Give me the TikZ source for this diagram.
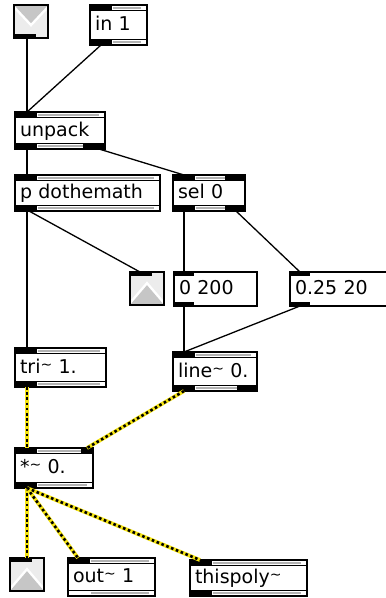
\documentclass[tikz,border=0pt]{standalone}
\usepackage{fontspec}
\usetikzlibrary{calc}
\newfontfamily\patchfont{DejaVu Sans}
\newcommand{\sigt}{\raisebox{0.35ex}{\fontsize{14}{14}\selectfont\textasciitilde}}
\definecolor{sigyellow}{RGB}{245,228,20}

\tikzset{
  cord/.style={line width=1.3pt},
  sigcord/.style={line width=3.8pt, sigyellow,
    postaction={draw=black, line width=2.6pt, dash pattern=on 2.6pt off 2.6pt}},
  box/.style={draw, line width=1.4pt, fill=white, anchor=north west,
    inner xsep=5pt, inner ysep=0pt, outer sep=0pt, align=left,
    text height=14pt, text depth=3pt,
    font=\patchfont\fontsize{19}{21}\selectfont},
  objbox/.style={box, path picture={
    % inner rules of the top and bottom strips
    \draw[line width=1.2pt] ([yshift=-5.5pt]path picture bounding box.north west) -- ([yshift=-5.5pt]path picture bounding box.north east);
    \draw[line width=1.2pt] ([yshift=5.5pt]path picture bounding box.south west) -- ([yshift=5.5pt]path picture bounding box.south east);
    \fill[gray!60] ([xshift=23pt,yshift=-2pt]path picture bounding box.north west) rectangle ([xshift=-6pt,yshift=-4pt]path picture bounding box.north east);
    \fill[gray!60] ([xshift=23pt,yshift=2pt]path picture bounding box.south west) rectangle ([xshift=-6pt,yshift=4pt]path picture bounding box.south east);
    % grow handle
    \fill ([xshift=-3pt,yshift=-2pt]path picture bounding box.east) rectangle ([yshift=-8pt]path picture bounding box.east);
  }},
  msgbox/.style={box, line width=1.2pt},
  icon/.style={draw, line width=1.4pt, fill=gray!15, anchor=north west,
    minimum width=34pt, minimum height=33pt, inner sep=0pt, outer sep=0pt},
  inicon/.style={icon, path picture={
    \draw[white, line width=5pt] (path picture bounding box.north west) -- ($(path picture bounding box.north)!0.55!(path picture bounding box.south)$) -- (path picture bounding box.north east);
    \fill[gray!45] (path picture bounding box.north west) -- ($(path picture bounding box.north)!0.55!(path picture bounding box.south)$) -- (path picture bounding box.north east) -- cycle;
    \fill ([xshift=-3pt,yshift=-2pt]path picture bounding box.east) rectangle ([yshift=-8pt]path picture bounding box.east);
  }},
  outicon/.style={icon, path picture={
    \draw[white, line width=5pt] (path picture bounding box.south west) -- ($(path picture bounding box.north)!0.4!(path picture bounding box.south)$) -- (path picture bounding box.south east);
    \fill[gray!45] (path picture bounding box.south west) -- ($(path picture bounding box.north)!0.4!(path picture bounding box.south)$) -- (path picture bounding box.south east) -- cycle;
    \fill ([xshift=-3pt,yshift=-2pt]path picture bounding box.east) rectangle ([yshift=-8pt]path picture bounding box.east);
  }},
}

\begin{document}
\begin{tikzpicture}[x=1pt, y=-1pt]
  \useasboundingbox (0,0) rectangle (386,598);

  % --- Inputs ---
  \node[inicon] (inl) at (14,5) {};
  \fill (inl.south west) rectangle +(22,-4);
  \node[objbox, text width=47pt, minimum height=40pt] (in1) at (90,5) {in 1};
  \fill (in1.north west) rectangle +(22,5);
  \fill (in1.south west) rectangle +(22,-6);

  % --- Control part ---
  \node[objbox, text width=80pt, minimum height=37pt] (unpack) at (15,112) {unpack};
  \fill (unpack.north west) rectangle +(22,6);
  \fill (unpack.south west) rectangle +(22,-6);
  \fill (unpack.south east) rectangle +(-22,-6);

  \node[objbox, text width=135pt, minimum height=36pt] (dothemath) at (15,175) {p dothemath};
  \fill (dothemath.north west) rectangle +(22,6);
  \fill (dothemath.south west) rectangle +(22,-6);

  \node[objbox, text width=62pt, minimum height=36pt] (sel) at (173,175) {sel 0};
  \fill (sel.north west) rectangle +(22,6);
  \fill (sel.north east) rectangle +(-20,6);
  \fill (sel.south west) rectangle +(22,-6);
  \fill (sel.south east) rectangle +(-20,-6);

  \node[outicon] (outctl) at (130,272) {};
  \fill (outctl.north west) rectangle +(22,4);

  \node[msgbox, text width=73pt, minimum height=34pt] (msgA) at (174,272) {0 200};
  \fill (msgA.north west) rectangle +(20,3.5);
  \fill (msgA.south west) rectangle +(20,-4);
  \node[msgbox, text width=90pt, minimum height=34pt] (msgB) at (290,272) {0.25 20};
  \fill (msgB.north west) rectangle +(20,3.5);
  \fill (msgB.south west) rectangle +(20,-4);

  % --- Signal part ---
  \node[objbox, text width=81pt, minimum height=39pt] (tri) at (15,348) {tri\sigt{} 1.};
  \fill (tri.north west) rectangle +(22,6);
  \fill (tri.south west) rectangle +(22,-6);

  \node[objbox, text width=74pt, minimum height=39pt] (linesig) at (173,352) {line\sigt{} 0.};
  \fill (linesig.north west) rectangle +(22,6);
  \fill (linesig.south west) rectangle +(22,-6);
  \fill (linesig.south east) rectangle +(-20,-6);

  \node[objbox, text width=68pt, minimum height=40pt] (times) at (15,448) {*\sigt{} 0.};
  \fill (times.north west) rectangle +(22,6);
  \fill (times.north east) rectangle +(-12,6);
  \fill (times.south west) rectangle +(22,-6);

  % --- Outputs ---
  \node[outicon] (outsig) at (10,558) {};
  \fill (outsig.north west) rectangle +(22,4);
  \node[objbox, text width=77pt, minimum height=38pt] (outch) at (68,558) {out\sigt{} 1};
  \fill (outch.north west) rectangle +(22,6);
  \node[objbox, text width=107pt, minimum height=36pt] (thispoly) at (190,560) {thispoly\sigt};
  \fill (thispoly.north west) rectangle +(22,6);
  \fill (thispoly.south west) rectangle +(22,-6);

  % patch cords
  \draw[cord] ($(inl.south west)+(13,0)$) -- ($(unpack.north west)+(12,0)$);
  \draw[cord] ($(in1.south west)+(11,0)$) -- ($(unpack.north west)+(12,0)$);
  \draw[cord] ($(unpack.south west)+(12,0)$) -- ($(dothemath.north west)+(12,0)$);
  \draw[cord] ($(unpack.south east)+(-6,0)$) -- ($(sel.north west)+(11,0)$);
  \draw[cord] ($(dothemath.south west)+(12,0)$) -- ($(tri.north west)+(12,0)$);
  \draw[cord] ($(dothemath.south west)+(14,0)$) -- ($(outctl.north west)+(10,0)$);
  \draw[cord] ($(sel.south west)+(11,0)$) -- ($(msgA.north west)+(10,0)$);
  \draw[cord] ($(sel.south east)+(-9,0)$) -- ($(msgB.north west)+(10,0)$);
  \draw[cord] ($(msgA.south west)+(10,0)$) -- ($(linesig.north west)+(11,0)$);
  \draw[cord] ($(msgB.south west)+(10,0)$) -- ($(linesig.north west)+(11,0)$);

  % signal cords
  \draw[sigcord] ($(tri.south west)+(12,0)$) -- ($(times.north west)+(12,0)$);
  \draw[sigcord] ($(linesig.south west)+(11,0)$) -- ($(times.north east)+(-6,0)$);
  \draw[sigcord] ($(times.south west)+(12,0)$) -- ($(outsig.north west)+(17,0)$);
  \draw[sigcord] ($(times.south west)+(12,0)$) -- ($(outch.north west)+(10,0)$);
  \draw[sigcord] ($(times.south west)+(12,0)$) -- ($(thispoly.north west)+(10,0)$);
\end{tikzpicture}
\end{document}
